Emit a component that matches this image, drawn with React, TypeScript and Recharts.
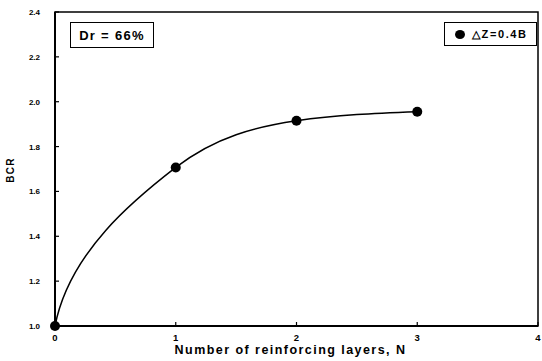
import React from "react";
import {
  ComposedChart,
  Line,
  XAxis,
  YAxis,
  ReferenceArea,
} from "recharts";

const layers = [0, 1, 2, 3];
const bcrValues = [1.0, 1.707, 1.915, 1.955];
const xTicks = [0, 1, 2, 3, 4];
const yTicks = [1.0, 1.2, 1.4, 1.6, 1.8, 2.0, 2.2, 2.4];
const seriesName = "\u25B3Z=0.4B";
const densityLabel = "Dr = 66%";
const xTitle = "Number of reinforcing layers, N";
const yTitle = "BCR";

const data = layers.map((n, i) => ({ n, bcr: bcrValues[i] }));

const font = "Arial, 'Liberation Sans', Helvetica, sans-serif";

// Smooth trend-line style curve: steep rise from the first point, monotone elsewhere.
function trendCurve(context: any) {
  let pts: [number, number][] = [];
  return {
    areaStart() {},
    areaEnd() {},
    lineStart() {
      pts = [];
    },
    point(x: number, y: number) {
      pts.push([+x, +y]);
    },
    lineEnd() {
      const n = pts.length;
      if (!n) return;
      context.moveTo(pts[0][0], pts[0][1]);
      if (n === 1) return;
      const h: number[] = [];
      const s: number[] = [];
      for (let i = 0; i < n - 1; i++) {
        h[i] = pts[i + 1][0] - pts[i][0];
        s[i] = (pts[i + 1][1] - pts[i][1]) / h[i];
      }
      const t: number[] = new Array(n).fill(0);
      for (let i = 1; i < n - 1; i++) {
        const p = (s[i - 1] * h[i] + s[i] * h[i - 1]) / (h[i - 1] + h[i]);
        t[i] =
          (Math.sign(s[i - 1]) + Math.sign(s[i])) *
            Math.min(Math.abs(s[i - 1]), Math.abs(s[i]), 0.5 * Math.abs(p)) || 0;
      }
      t[n - 1] = n > 2 ? (3 * s[n - 2] - t[n - 2]) / 2 : s[0];
      for (let i = 0; i < n - 1; i++) {
        const [x0, y0] = pts[i];
        const [x1, y1] = pts[i + 1];
        const hh = x1 - x0;
        let c1x: number;
        let c1y: number;
        if (i === 0) {
          c1x = x0 + hh * 0.12;
          c1y = y0 + (y1 - y0) * 0.47;
        } else {
          c1x = x0 + hh / 3;
          c1y = y0 + (t[i] * hh) / 3;
        }
        const c2x = x1 - hh / 3;
        const c2y = y1 - (t[i + 1] * hh) / 3;
        context.bezierCurveTo(c1x, c1y, c2x, c2y, x1, y1);
      }
    },
  };
}

const YTick = (props: any) => {
  const { x, y, payload } = props;
  return (
    <g>
      <line x1={x + 15} x2={x + 19} y1={y} y2={y} stroke="#000" strokeWidth={1.2} />
      <text
        x={x}
        y={y}
        dy={3}
        textAnchor="end"
        fill="#000"
        fontSize={8}
        fontWeight={700}
        fontFamily={font}
      >
        {Number(payload.value).toFixed(1)}
      </text>
    </g>
  );
};

const XTick = (props: any) => {
  const { x, y, payload } = props;
  return (
    <g>
      <line x1={x} x2={x} y1={y - 9} y2={y - 13} stroke="#000" strokeWidth={1.2} />
      <text
        x={x}
        y={y}
        dy={6}
        textAnchor="middle"
        fill="#000"
        fontSize={9.5}
        fontWeight={700}
        fontFamily={font}
      >
        {payload.value}
      </text>
    </g>
  );
};

export default function App() {
  return (
    <div
      style={{
        position: "absolute",
        left: 0,
        top: 0,
        width: 542,
        height: 361,
        background: "#fff",
        fontFamily: font,
      }}
    >
      <ComposedChart
        width={542}
        height={361}
        data={data}
        margin={{ top: 12, right: 4, bottom: 0, left: 0 }}
      >
        <XAxis
          dataKey="n"
          type="number"
          domain={[0, 4]}
          ticks={xTicks}
          tickSize={0}
          tickMargin={9}
          height={35}
          interval={0}
          stroke="#000"
          tickLine={false}
          axisLine={{ stroke: "#000", strokeWidth: 2 }}
          tick={<XTick />}
          label={{
            value: xTitle,
            content: (p: any) => {
              const vb = p.viewBox;
              return (
                <text
                  x={vb.x + vb.width / 2 - 6}
                  y={vb.y + 28}
                  textAnchor="middle"
                  fill="#000"
                  fontSize={12.5}
                  fontWeight={700}
                  fontFamily={font}
                  letterSpacing={1.45}
                >
                  {xTitle}
                </text>
              );
            },
          }}
        />
        <YAxis
          type="number"
          domain={[1.0, 2.4]}
          ticks={yTicks}
          tickSize={0}
          tickMargin={15}
          width={55}
          interval={0}
          stroke="#000"
          tickLine={false}
          axisLine={{ stroke: "#000", strokeWidth: 2 }}
          tick={<YTick />}
          label={{
            value: yTitle,
            content: () => {
              const cy = 170;
              return (
                <text
                  x={10}
                  y={cy}
                  transform={`rotate(-90, 10, ${cy})`}
                  dy={3.5}
                  textAnchor="middle"
                  fill="#000"
                  fontSize={10}
                  fontWeight={700}
                  fontFamily={font}
                  letterSpacing={1.2}
                >
                  {yTitle}
                </text>
              );
            },
          }}
        />
        <ReferenceArea
          x1={0}
          x2={4}
          y1={1.0}
          y2={2.4}
          fill="none"
          stroke="#000"
          strokeWidth={1.5}
          ifOverflow="visible"
        />
        <Line
          dataKey="bcr"
          type={trendCurve as any}
          stroke="#000"
          strokeWidth={1.5}
          isAnimationActive={false}
          dot={{ r: 5, fill: "#000", stroke: "#000", strokeWidth: 0 }}
          activeDot={false}
        />
      </ComposedChart>
      <div
        style={{
          position: "absolute",
          left: 70,
          top: 22,
          width: 84,
          height: 26,
          boxSizing: "border-box",
          border: "1px solid #000",
          display: "flex",
          alignItems: "center",
          justifyContent: "center",
          fontSize: 13,
          fontWeight: 700,
          letterSpacing: 1.3,
          fontFamily: font,
        }}
      >
        {densityLabel}
      </div>
      <div
        style={{
          position: "absolute",
          left: 444,
          top: 22,
          width: 93,
          height: 24,
          boxSizing: "border-box",
          border: "1px solid #000",
          display: "flex",
          alignItems: "center",
          paddingLeft: 10,
          fontSize: 11,
          fontWeight: 700,
          letterSpacing: 1.6,
          fontFamily: font,
          whiteSpace: "nowrap",
        }}
      >
        <span
          style={{
            display: "inline-block",
            width: 10,
            height: 9,
            borderRadius: "50%",
            background: "#000",
            marginRight: 7,
          }}
        />
        {seriesName}
      </div>
    </div>
  );
}
